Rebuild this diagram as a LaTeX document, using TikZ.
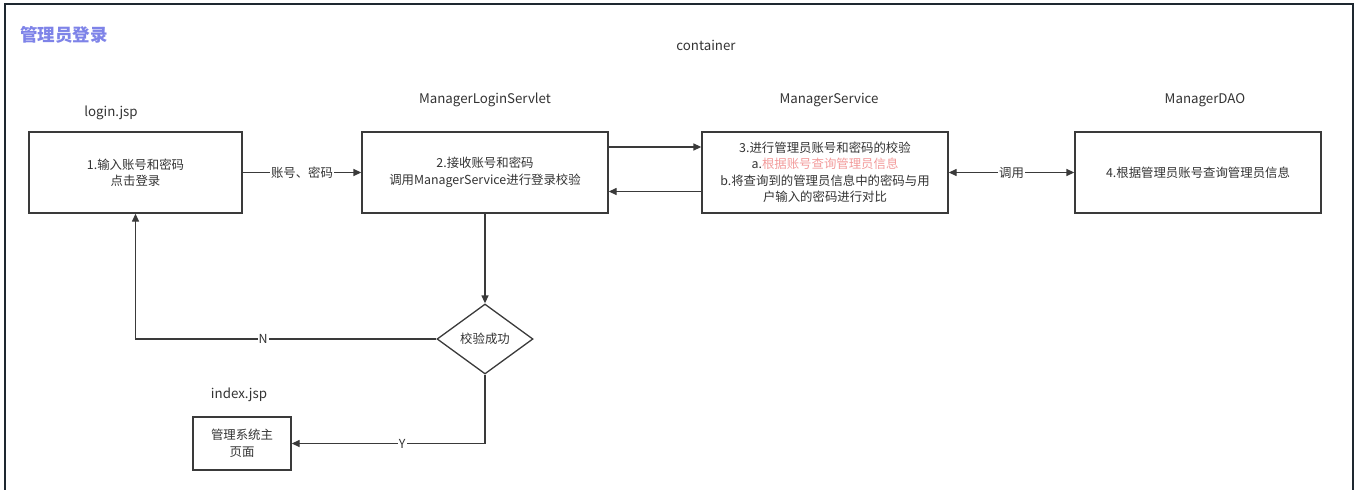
\documentclass[tikz,border=0pt]{standalone}
\usepackage{fontspec}
\setmainfont{Noto Sans CJK SC}
\usetikzlibrary{arrows.meta,shapes.geometric}
\definecolor{linegray}{HTML}{3A3A3A}
\definecolor{textgray}{HTML}{333333}
\definecolor{framecol}{HTML}{1E2830}
\definecolor{titleblue}{HTML}{7E83E8}
\definecolor{pinkred}{HTML}{F29A9A}
\tikzset{
  box/.style={draw=linegray, line width=1.3pt, rectangle, align=center, text=textgray,
    font=\fontsize{12.4}{16.5}\selectfont, inner sep=0pt},
  lbl/.style={text=textgray, font=\fontsize{13.3}{15}\selectfont, inner sep=0pt},
  conn/.style={draw=linegray, line width=1.3pt, -{Triangle[length=8pt,width=7pt]}},
  elab/.style={fill=white, text=textgray, font=\fontsize{12.4}{15}\selectfont, inner sep=1pt},
}
\begin{document}
\begin{tikzpicture}[x=1pt,y=-1pt]
\useasboundingbox (0,0) rectangle (1355,490);
\draw[framecol, line width=2pt] (4.5,495) -- (4.5,3.5) -- (1352.5,3.5) -- (1352.5,495);
\node[anchor=west, text=titleblue, font=\fontsize{17.5}{20}\selectfont\bfseries, inner sep=0pt] (title) at (20,35) {管理员登录};
\node[lbl] (cont) at (706,45) {container};
\node[lbl] (l1) at (111,113) {login.jsp};
\node[lbl] (l2) at (485,100) {ManagerLoginServlet};
\node[lbl] (l3) at (829,100) {ManagerService};
\node[lbl] (l4) at (1205,100) {ManagerDAO};
\node[lbl] (l5) at (239,395) {index.jsp};
\node[box, minimum width=213pt, minimum height=81pt] (b1) at (135.5,172.5) {1.输入账号和密码\\点击登录};
\node[box, minimum width=246pt, minimum height=81pt] (b2) at (485,172.5) {2.接收账号和密码\\调用ManagerService进行登录校验};
\node[box, minimum width=246pt, minimum height=81pt] (b3) at (825,172.5) {3.进行管理员账号和密码的校验\\a.{\color{pinkred}根据账号查询管理员信息}\\b.将查询到的管理员信息中的密码与用\\户输入的密码进行对比};
\node[box, minimum width=246pt, minimum height=81pt] (b4) at (1198,172.5) {4.根据管理员账号查询管理员信息};
\node[box, minimum width=98pt, minimum height=53pt] (b5) at (242,443.5) {管理系统主\\页面};
\node[box, diamond, aspect=1.37, minimum width=96pt, minimum height=70pt, inner sep=0pt] (d) at (485,339) {校验成功};
\draw[conn] (b1.east) -- node[elab] {账号、密码} (b2.west);
\draw[conn] ([yshift=25.5pt]b2.east) coordinate (s23) -- (s23 -| b3.west);
\draw[conn] ([yshift=-19pt]b3.west) coordinate (s32) -- (s32 -| b2.east);
\draw[draw=linegray, line width=1.3pt, {Triangle[length=8pt,width=7pt]}-{Triangle[length=8pt,width=7pt]}] (b3.east) -- node[elab] {调用} (b4.west);
\draw[conn] (b2.south) -- (d.north);
\draw[conn] (d.west) -| node[elab, pos=0.288] {N} (b1.south);
\draw[conn] (d.south) |- node[elab, pos=0.714] {Y} (b5.east);
\end{tikzpicture}
\end{document}
